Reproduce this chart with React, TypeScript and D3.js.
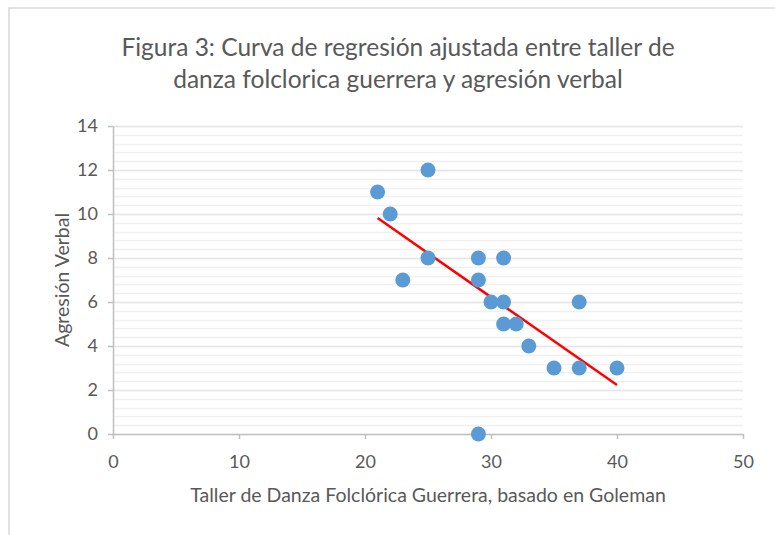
import React, { useEffect, useRef } from 'react';
import * as d3 from 'd3';

// Taller de danza (x) vs agresión verbal (y)
const tallerScores = [21, 22, 25, 25, 23, 29, 31, 29, 30, 31, 37, 31, 32, 33, 35, 37, 40, 29];
const agresionScores = [11, 10, 12, 8, 7, 8, 8, 7, 6, 6, 6, 5, 5, 4, 3, 3, 3, 0];
const xTicks = [0, 10, 20, 30, 40, 50];
const yTicks = [0, 2, 4, 6, 8, 10, 12, 14];
const titleLines = [
  'Figura 3: Curva de regresión ajustada entre taller de',
  'danza folclorica guerrera y agresión verbal',
];
const xTitle = 'Taller de Danza Folclórica Guerrera, basado en Goleman';
const yTitle = 'Agresión Verbal';

const FONT = 'Lato, "Open Sans", sans-serif';

const App = () => {
  const svgRef = useRef<SVGSVGElement>(null);

  useEffect(() => {
    if (!svgRef.current) return;
    const svg = d3.select(svgRef.current);
    svg.selectAll('*').remove();

    const width = 775;
    const height = 535;
    const left = 113, right = 743, top = 126, bottom = 434;

    svg.attr('width', width).attr('height', height);

    svg.append('rect')
      .attr('width', width).attr('height', height).attr('fill', '#fff');

    // chart frame (cut off on the right and bottom)
    svg.append('rect')
      .attr('x', 9).attr('y', 8)
      .attr('width', 800).attr('height', 600)
      .attr('fill', 'none').attr('stroke', '#d9d9d9').attr('stroke-width', 1.5);

    const x = d3.scaleLinear().domain([0, 50]).range([left, right]);
    const y = d3.scaleLinear().domain([0, 14]).range([bottom, top]);

    // minor gridlines
    const minor = d3.range(0, 14.001, 0.4);
    svg.append('g').selectAll('line')
      .data(minor)
      .enter().append('line')
      .attr('x1', left).attr('x2', right)
      .attr('y1', d => Math.round(y(d)) + 0.5).attr('y2', d => Math.round(y(d)) + 0.5)
      .attr('stroke', '#f0f0f0').attr('stroke-width', 1.5);

    // major gridlines
    svg.append('g').selectAll('line')
      .data(yTicks.slice(1))
      .enter().append('line')
      .attr('x1', left).attr('x2', right)
      .attr('y1', d => Math.round(y(d)) + 0.5).attr('y2', d => Math.round(y(d)) + 0.5)
      .attr('stroke', '#e6e6e6').attr('stroke-width', 1.5);

    // y axis
    const yAxis = svg.append('g')
      .attr('transform', `translate(${left},0)`)
      .call(d3.axisLeft(y).tickValues(yTicks).tickSize(5).tickPadding(10).tickSizeOuter(0));
    yAxis.select('.domain').attr('stroke', '#bfbfbf').attr('stroke-width', 1.5);
    yAxis.selectAll('.tick line').attr('stroke', '#bfbfbf').attr('stroke-width', 1.5);
    yAxis.selectAll('.tick text')
      .attr('fill', '#595959').attr('font-family', FONT).attr('font-size', 18);

    // x axis
    const xAxis = svg.append('g')
      .attr('transform', `translate(0,${bottom})`)
      .call(d3.axisBottom(x).tickValues(xTicks).tickSize(5).tickPadding(16).tickSizeOuter(0));
    xAxis.select('.domain').attr('stroke', '#bfbfbf').attr('stroke-width', 1.5);
    xAxis.selectAll('.tick line').attr('stroke', '#bfbfbf').attr('stroke-width', 1.5);
    xAxis.selectAll('.tick text')
      .attr('fill', '#595959').attr('font-family', FONT).attr('font-size', 18);

    // regression line
    const xm = d3.mean(tallerScores) as number;
    const ym = d3.mean(agresionScores) as number;
    const sxy = d3.sum(tallerScores, (v, i) => (v - xm) * (agresionScores[i] - ym));
    const sxx = d3.sum(tallerScores, v => (v - xm) * (v - xm));
    const slope = sxy / sxx;
    const intercept = ym - slope * xm;
    const [xmin, xmax] = d3.extent(tallerScores) as [number, number];
    const line = d3.line<number>().x(d => x(d)).y(d => y(intercept + slope * d));
    svg.append('path')
      .attr('d', line([xmin, xmax]))
      .attr('fill', 'none')
      .attr('stroke', '#ff0000')
      .attr('stroke-width', 2.5);

    // points
    svg.append('g').selectAll('circle')
      .data(tallerScores)
      .enter().append('circle')
      .attr('cx', d => x(d))
      .attr('cy', (d, i) => y(agresionScores[i]))
      .attr('r', 7.5)
      .attr('fill', '#5b9bd5');

    // title
    svg.append('g').selectAll('text')
      .data(titleLines)
      .enter().append('text')
      .attr('x', 398)
      .attr('y', (d, i) => 56 + i * 32)
      .attr('text-anchor', 'middle')
      .attr('font-family', FONT)
      .attr('font-size', 24.5)
      .attr('fill', '#595959')
      .text(d => d);

    // axis titles
    svg.append('text')
      .attr('x', 428).attr('y', 502)
      .attr('text-anchor', 'middle')
      .attr('font-family', FONT).attr('font-size', 19.5)
      .attr('fill', '#595959')
      .text(xTitle);

    svg.append('text')
      .attr('transform', `translate(69,280) rotate(-90)`)
      .attr('text-anchor', 'middle')
      .attr('font-family', FONT).attr('font-size', 19.5)
      .attr('fill', '#595959')
      .text(yTitle);
  }, []);

  return (
    <div style={{ position: 'absolute', left: 0, top: 0 }}>
      <svg ref={svgRef} style={{ display: 'block' }}></svg>
    </div>
  );
};

export default App;
